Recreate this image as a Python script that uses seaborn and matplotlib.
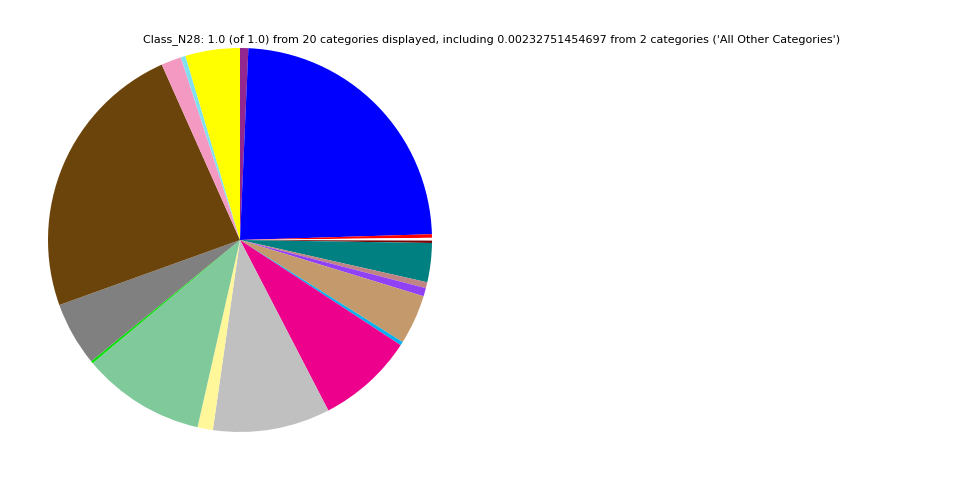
import matplotlib
matplotlib.use("Agg")
import matplotlib.pyplot as plt
import seaborn as sns

sns.set_style("white")
plt.rcParams['font.family'] = ['DejaVu Sans']
plt.rcParams['text.color'] = 'black'

categories = ["Purple", "Blue", "Red", "All Other Categories", "Maroon", "Teal",
              "Rosy", "Violet", "Tan", "Sky", "Magenta", "Silver", "Light Yellow",
              "Light Green", "Green", "Grey", "Brown", "Pink", "Light Cyan", "Yellow"]
values = [0.0070, 0.2390, 0.0030, 0.00232751454697, 0.0020, 0.0330,
          0.0050, 0.0070, 0.0420, 0.0030, 0.0820, 0.0990, 0.0130,
          0.1040, 0.0020, 0.0540, 0.2390, 0.0170, 0.0040, 0.0460]
colors = ["#92278F", "#0000FF", "#FF0000", "#FFFFFF", "#800000", "#008080",
          "#C08484", "#9040F5", "#C49A6C", "#00B0F0", "#EC008C", "#C0C0C0", "#FFF799",
          "#80C99B", "#00E000", "#808080", "#6B440B", "#F49AC2", "#80E0F0", "#FFFF00"]
title = ("Class_N28: 1.0 (of 1.0) from 20 categories displayed, including "
         "0.00232751454697 from 2 categories ('All Other Categories')")

total = sum(values)
fracs = [v / total for v in values]

fig = plt.figure(figsize=(9.6, 4.8), dpi=100)
ax = fig.add_axes([48 / 960, 48 / 480, 384 / 960, 384 / 480])
ax.pie(fracs, colors=colors, startangle=90, counterclock=False, radius=1.0,
       wedgeprops=dict(linewidth=0))
ax.set_xlim(-1, 1)
ax.set_ylim(-1, 1)
ax.set_aspect("equal")
ax.axis("off")
fig.text(492 / 960, 1 - 40 / 480, title, ha="center", va="center", fontsize=8,
         color="black")
fig.savefig("out.png", dpi=100, facecolor="white")
